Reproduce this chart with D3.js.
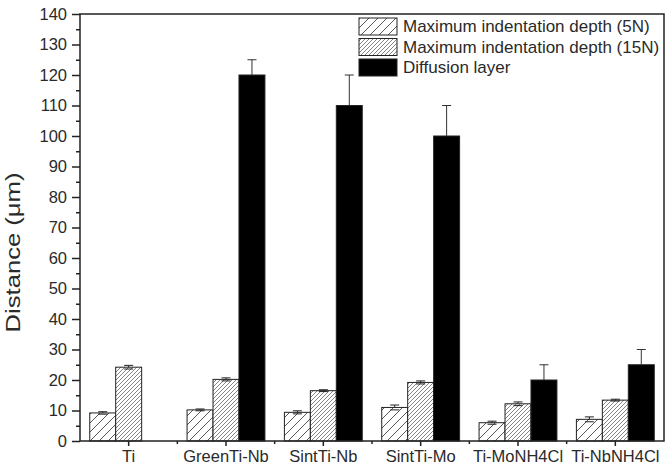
<!DOCTYPE html>
<html><head><meta charset="utf-8">
<script src="https://cdn.jsdelivr.net/npm/d3@7"></script>
<style>html,body{margin:0;padding:0;background:#fff;}svg{display:block;}</style>
</head><body>
<script>
const categories = ["Ti","GreenTi-Nb","SintTi-Nb","SintTi-Mo","Ti-MoNH4Cl","Ti-NbNH4Cl"];
const seriesNames = ["Maximum indentation depth (5N)","Maximum indentation depth (15N)","Diffusion layer"];
const depth5N  = [9.2, 10.2, 9.4, 11.0, 6.0, 7.1];
const err5N    = [0.4, 0.3, 0.5, 0.8, 0.5, 0.8];
const depth15N = [24.2, 20.2, 16.5, 19.2, 12.2, 13.4];
const err15N   = [0.6, 0.5, 0.3, 0.5, 0.6, 0.3];
const diffusion = [0, 120, 110, 100, 20, 25];
const errDiff   = [0, 5, 10, 10, 5, 5];
const yTicks = d3.range(0, 141, 10);
const yMinorTicks = d3.range(5, 140, 10);

const W = 669, H = 464;
const m = {left: 80, right: 5, top: 14, bottom: 23};
const svg = d3.select("body").append("svg").attr("width", W).attr("height", H);
const defs = svg.append("defs");

const p5 = defs.append("pattern").attr("id","h5").attr("patternUnits","userSpaceOnUse")
  .attr("width",9).attr("height",9);
p5.append("rect").attr("width",9).attr("height",9).attr("fill","#fff");
p5.append("path").attr("d","M-1,10 L10,-1 M-2,2 L2,-2 M7,11 L11,7").attr("stroke","#444").attr("stroke-width",0.9);
const p15 = defs.append("pattern").attr("id","h15").attr("patternUnits","userSpaceOnUse")
  .attr("width",4).attr("height",4);
p15.append("rect").attr("width",4).attr("height",4).attr("fill","#fff");
p15.append("path").attr("d","M-1,5 L5,-1 M-1,1 L1,-1 M3,5 L5,3").attr("stroke","#777").attr("stroke-width",0.9);

const fills = ["url(#h5)","url(#h15)","#000"];
const series = [
  {vals: depth5N, errs: err5N},
  {vals: depth15N, errs: err15N},
  {vals: diffusion, errs: errDiff}
];

const x0 = d3.scaleBand().domain(categories).range([m.left, W - m.right]).paddingInner(0.2).paddingOuter(0.1);
const x1 = d3.scaleBand().domain(d3.range(3)).range([0, x0.bandwidth()]);
const y = d3.scaleLinear().domain([0,140]).range([H - m.bottom, m.top]);

const font = "Arial, 'Liberation Sans', Helvetica, sans-serif";

// bars
series.forEach((s, si) => {
  const g = svg.append("g");
  categories.forEach((c, ci) => {
    const v = s.vals[ci];
    if (v <= 0) return;
    const bx = x0(c) + x1(si);
    const bw = x1.bandwidth();
    g.append("rect").attr("x", bx).attr("y", y(v)).attr("width", bw).attr("height", y(0) - y(v))
      .attr("fill", fills[si]).attr("stroke", "#222").attr("stroke-width", 1);
    const e = s.errs[ci];
    if (e > 0) {
      const cx = bx + bw/2;
      const col = si === 2 ? "#333" : "#222";
      g.append("line").attr("x1",cx).attr("x2",cx).attr("y1",y(v)).attr("y2",y(v+e)).attr("stroke",col).attr("stroke-width",1);
      g.append("line").attr("x1",cx-4.5).attr("x2",cx+4.5).attr("y1",y(v+e)).attr("y2",y(v+e)).attr("stroke",col).attr("stroke-width",1);
      if (si < 2) g.append("line").attr("x1",cx-4.5).attr("x2",cx+4.5).attr("y1",y(v-e)).attr("y2",y(v-e)).attr("stroke",col).attr("stroke-width",1);
    }
  });
});

// frame
svg.append("rect").attr("x", m.left).attr("y", m.top).attr("width", W - m.right - m.left).attr("height", y(0) - m.top)
  .attr("fill","none").attr("stroke","#222").attr("stroke-width",1.5);

// y axis
const yAxis = svg.append("g").attr("transform", `translate(${m.left},0)`)
  .call(d3.axisLeft(y).tickValues(yTicks).tickSize(8).tickPadding(5));
yAxis.select(".domain").remove();
yAxis.selectAll("line").attr("stroke","#222").attr("stroke-width",1.5);
yAxis.selectAll("text").attr("font-family", font).attr("font-size", 16.5).attr("fill","#2a2a2a");
const yMinor = svg.append("g").attr("transform", `translate(${m.left},0)`)
  .call(d3.axisLeft(y).tickValues(yMinorTicks).tickSize(4).tickFormat(""));
yMinor.select(".domain").remove();
yMinor.selectAll("line").attr("stroke","#222").attr("stroke-width",1.5);

// x axis
const xAxis = svg.append("g").attr("transform", `translate(0,${y(0)})`)
  .call(d3.axisBottom(x0).tickSize(5).tickPadding(4));
xAxis.select(".domain").remove();
xAxis.selectAll("line").attr("stroke","#222").attr("stroke-width",1.5);
xAxis.selectAll("text").attr("font-family", font).attr("font-size", 16.5).attr("fill","#2a2a2a");
const bounds = categories.slice(1).map(c => x0(c) - x0.step()*x0.paddingInner()/2);
svg.append("g").selectAll("line").data(bounds).join("line")
  .attr("x1", d => d).attr("x2", d => d).attr("y1", y(0)).attr("y2", y(0)+3)
  .attr("stroke","#222").attr("stroke-width",1.5);

// y label
svg.append("text").attr("transform", `translate(20,${(m.top + y(0))/2 + 25}) rotate(-90)`)
  .attr("text-anchor","middle").attr("font-family", font).attr("font-size", 21).attr("fill","#2a2a2a")
  .attr("textLength", 160).attr("lengthAdjust","spacingAndGlyphs")
  .text("Distance (\u03bcm)");

// legend (frame lines serve as its top and right border)
seriesNames.forEach((n, i) => {
  const ry = 18 + i*20.5;
  svg.append("rect").attr("x", 359).attr("y", ry).attr("width", 38).attr("height", 17)
    .attr("fill", fills[i]).attr("stroke","#222").attr("stroke-width",1);
  svg.append("text").attr("x", 403).attr("y", ry + 14).attr("font-family", font).attr("font-size", 17)
    .attr("fill","#2a2a2a").text(n);
});
</script>
</body></html>
